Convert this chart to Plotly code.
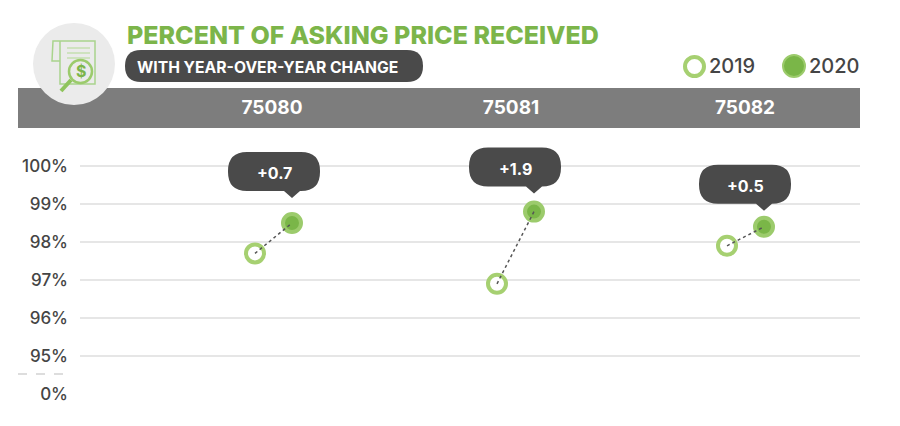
"""Percent of asking price received by zip code, 2019 vs 2020."""

import plotly.graph_objects as go

zip_codes = ["75080", "75081", "75082"]
values_2019 = [97.7, 96.9, 97.9]
values_2020 = [98.5, 98.8, 98.4]
change_labels = ["+0.7", "+1.9", "+0.5"]
y_ticks = [94, 95, 96, 97, 98, 99, 100]
y_tick_labels = ["0%", "95%", "96%", "97%", "98%", "99%", "100%"]
grid_values = [95, 96, 97, 98, 99, 100]

# layout only, in page pixels
WIDTH, HEIGHT = 900, 426
LEFT, RIGHT, TOP, BOTTOM = 80, 860, 128, 410
HEADER_X = [272, 511, 745]
X_2019 = [255, 497, 727]
X_2020 = [292, 534, 764]
BUBBLE_X = [228, 469, 699]     # left edge of each callout
BUBBLE_LIFT = [71, 64, 62]     # from 2020 point up to the callout's top

GREEN = "#7ab648"
LIGHT_GREEN = "#a6d071"
TITLE_GREEN = "#7cb54a"
DARK = "#4a4a4a"
TEXT = "#454545"
FONT = "Inter"


def px(x):
    return (x - LEFT) / (RIGHT - LEFT)


def py(y):
    return (BOTTOM - y) / (BOTTOM - TOP)


def paper_shape(kind, x0, y0, x1, y1, **kw):
    return dict(type=kind, xref="paper", yref="paper",
                x0=px(x0), x1=px(x1), y0=py(y0), y1=py(y1), **kw)


def paper_line(points, color, width=1.5):
    path = "M" + " L".join(f"{px(x)},{py(y)}" for x, y in points)
    return dict(type="path", xref="paper", yref="paper", path=path,
                line=dict(color=color, width=width), layer="above")


fig = go.Figure()

# markers, then dotted connector on top so the dark centre dots show
for i in range(len(zip_codes)):
    fig.add_trace(go.Scatter(
        x=[X_2019[i], X_2020[i]], y=[values_2019[i], values_2020[i]],
        mode="markers",
        marker=dict(size=18, color=["white", GREEN],
                    line=dict(color=[LIGHT_GREEN, "#9ccb6c"], width=4)),
        showlegend=False, hoverinfo="skip",
    ))
    fig.add_trace(go.Scatter(
        x=[X_2019[i], X_2020[i]], y=[values_2019[i], values_2020[i]],
        mode="lines",
        line=dict(color="#555555", width=1.5, dash="dot"),
        showlegend=False, hoverinfo="skip",
    ))

shapes = []

# header band and axis break
shapes.append(paper_shape("rect", 18, 88, RIGHT, 128, fillcolor="#7d7d7d",
                          line_width=0, layer="below"))
shapes.append(paper_shape("line", 18, 374, 65, 374, layer="below",
                          line=dict(color="#d2d2d2", width=1.5, dash="dash")))

for v in grid_values:
    shapes.append(dict(type="line", xref="x domain", yref="y", x0=0, x1=1, y0=v, y1=v,
                       line=dict(color="#e6e6e6", width=2), layer="below"))

# icon
shapes.append(paper_shape("circle", 33, 23, 115, 105, fillcolor="#ebebeb",
                          line_width=0, layer="above"))
shapes.append(paper_line([(60, 41), (95, 41), (95, 84), (60, 84), (60, 41)], "#a9d48d"))
shapes.append(paper_line([(60, 41), (53, 41), (52, 61), (60, 61)], "#a9d48d"))
for y in (48, 53, 58):
    shapes.append(paper_line([(67, y), (90, y)], "#c4dfb0"))
shapes.append(paper_shape("circle", 69, 60, 92, 83, fillcolor="#ebebeb",
                          line=dict(color="#9ccb6c", width=2.5), layer="above"))
shapes.append(paper_line([(71, 80), (61, 91)], "#8fc45c", 4))

# subtitle pill, pixel offsets go upwards from the anchor
shapes.append(dict(
    type="path", xref="paper", yref="paper", xsizemode="pixel", ysizemode="pixel",
    xanchor=px(125), yanchor=py(82), layer="above",
    path="M16,0 L282,0 Q298,0 298,16 Q298,32 282,32 "
         "L16,32 Q0,32 0,16 Q0,0 16,0 Z",
    fillcolor=DARK, line_width=0,
))

# legend markers
shapes.append(paper_shape("circle", 685, 57, 704, 76, fillcolor="white", layer="above",
                          line=dict(color=LIGHT_GREEN, width=4)))
shapes.append(paper_shape("circle", 783, 55, 805, 77, fillcolor=GREEN, layer="above",
                          line=dict(color="#9ccb6c", width=2)))

# callouts, anchored to the 2020 point
for i in range(len(zip_codes)):
    off = BUBBLE_X[i] - X_2020[i]
    lift = BUBBLE_LIFT[i]
    h, w, r = 39, 92, 19
    tip_gap = 7
    y_top, y_bot = lift, lift - h
    path = (
        f"M{off + r},{y_top} L{off + w - r},{y_top} Q{off + w},{y_top} {off + w},{y_top - r} "
        f"L{off + w},{y_bot + r} Q{off + w},{y_bot} {off + w - r},{y_bot} "
        f"L8,{y_bot} L0,{y_bot - tip_gap} L-8,{y_bot} "
        f"L{off + r},{y_bot} Q{off},{y_bot} {off},{y_bot + r} "
        f"L{off},{y_top - r} Q{off},{y_top} {off + r},{y_top} Z"
    )
    shapes.append(dict(type="path", xref="x", yref="y", xsizemode="pixel", ysizemode="pixel",
                       xanchor=X_2020[i], yanchor=values_2020[i], path=path,
                       fillcolor=DARK, line_width=0, layer="above"))

annotations = [
    dict(text="PERCENT OF ASKING PRICE RECEIVED", xref="paper", yref="paper",
         x=px(125), y=py(35), xanchor="left", yanchor="middle", showarrow=False,
         font=dict(family=FONT, size=25, color=TITLE_GREEN, weight=800)),
    dict(text="<b>WITH YEAR-OVER-YEAR CHANGE</b>", xref="paper", yref="paper",
         x=px(135), y=py(67), xanchor="left", yanchor="middle", showarrow=False,
         font=dict(family=FONT, size=15.7, color="white")),
    dict(text="2019", xref="paper", yref="paper", x=px(707), y=py(66), xanchor="left",
         yanchor="middle", showarrow=False,
         font=dict(family=FONT, size=20, color=TEXT, weight=500)),
    dict(text="2020", xref="paper", yref="paper", x=px(807), y=py(66), xanchor="left",
         yanchor="middle", showarrow=False,
         font=dict(family=FONT, size=20, color=TEXT, weight=500)),
    dict(text="$", xref="paper", yref="paper", x=px(80.5), y=py(71), xanchor="center",
         yanchor="middle", showarrow=False,
         font=dict(family=FONT, size=16, color="#7cb54a", weight=700)),
]
for i, label in enumerate(change_labels):
    off = BUBBLE_X[i] - X_2020[i] + 46
    lift = BUBBLE_LIFT[i] - 21
    annotations.append(dict(
        text=f"<b>{label}</b>", xref="x", yref="y", x=X_2020[i], y=values_2020[i],
        xshift=off, yshift=lift, showarrow=False,
        font=dict(family=FONT, size=16, color="white"),
    ))

fig.update_layout(
    width=WIDTH, height=HEIGHT,
    margin=dict(l=LEFT, r=WIDTH - RIGHT, t=TOP, b=HEIGHT - BOTTOM, pad=0),
    paper_bgcolor="white", plot_bgcolor="white",
    showlegend=False,
    shapes=shapes,
    annotations=annotations,
    xaxis=dict(
        range=[LEFT, RIGHT], side="top", tickmode="array",
        tickvals=HEADER_X, ticktext=[f"<b>{z}</b>" for z in zip_codes],
        tickfont=dict(family=FONT, size=19, color="white"),
        showgrid=False, zeroline=False, showline=False, ticks="", ticklabelstandoff=9,
    ),
    yaxis=dict(
        range=[100 - (BOTTOM - 166) / 38, 100 + (166 - TOP) / 38],
        tickmode="array", tickvals=y_ticks, ticktext=y_tick_labels,
        tickfont=dict(family=FONT, size=17, color=TEXT, weight=500),
        showgrid=False, zeroline=False, showline=False, ticks="", ticklabelstandoff=11,
    ),
)

fig.write_html(
    "out.html",
    config={"displayModeBar": False},
    post_script="document.body.style.margin='0';",
)
